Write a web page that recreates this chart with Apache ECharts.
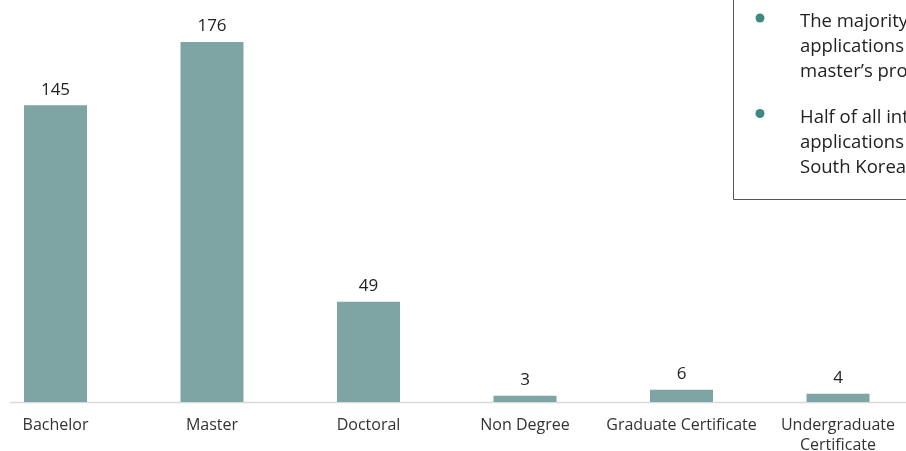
<!DOCTYPE html>
<html><head><meta charset="utf-8">
<script src="https://cdn.jsdelivr.net/npm/echarts@6/dist/echarts.min.js"></script>
<style>html,body{margin:0;padding:0;background:#fff}#c{width:906px;height:451px}</style>
</head><body><div id="c"></div>
<script>
const categories = ['Bachelor', 'Master', 'Doctoral', 'Non Degree', 'Graduate Certificate', 'Undergraduate\nCertificate'];
const applications = [145, 176, 49, 3, 6, 4];
const notes = [
  'The majority of\napplications were for\nmaster\u2019s programs',
  'Half of all international\napplications were from\nSouth Korea'
];
const FONT = '"Open Sans", sans-serif';
const chart = echarts.init(document.getElementById('c'), null, {renderer: 'canvas'});
chart.setOption({
  animation: false,
  grid: {left: -22.75, right: -10.25, top: 1, bottom: 49, containLabel: false, outerBoundsMode: 'none'},
  xAxis: {
    type: 'category', data: categories,
    axisLine: {show: false}, axisTick: {show: false},
    axisLabel: {color: '#333', fontSize: 16, fontFamily: FONT, margin: 13, interval: 0, lineHeight: 20, hideOverlap: false}
  },
  yAxis: {type: 'value', min: 0, max: 196, show: false, splitLine: {show: false}},
  series: [{
    type: 'bar', data: applications, barWidth: 63,
    itemStyle: {color: '#7ea5a3'},
    label: {show: true, position: 'top', distance: 7, color: '#222', fontSize: 17, fontFamily: FONT}
  }],
  graphic: [
    {type: 'line', shape: {x1: 10, y1: 402.5, x2: 906, y2: 402.5}, style: {stroke: '#d9d9d9', lineWidth: 1.5}, z: 1},
    {type: 'rect', shape: {x: 733.5, y: -2, width: 200, height: 201.5}, style: {fill: '#fff', stroke: '#555', lineWidth: 1}, z: 10},
    {type: 'circle', shape: {cx: 760, cy: 18, r: 4.5}, style: {fill: '#3d8a82'}, z: 11},
    {type: 'circle', shape: {cx: 760, cy: 113.5, r: 4.5}, style: {fill: '#3d8a82'}, z: 11},
    {type: 'text', x: 800, y: 9, style: {text: notes[0], fill: '#222', font: '18.5px ' + FONT, lineHeight: 25}, z: 11},
    {type: 'text', x: 800, y: 105, style: {text: notes[1], fill: '#222', font: '18.5px ' + FONT, lineHeight: 25}, z: 11}
  ]
});
</script></body></html>
